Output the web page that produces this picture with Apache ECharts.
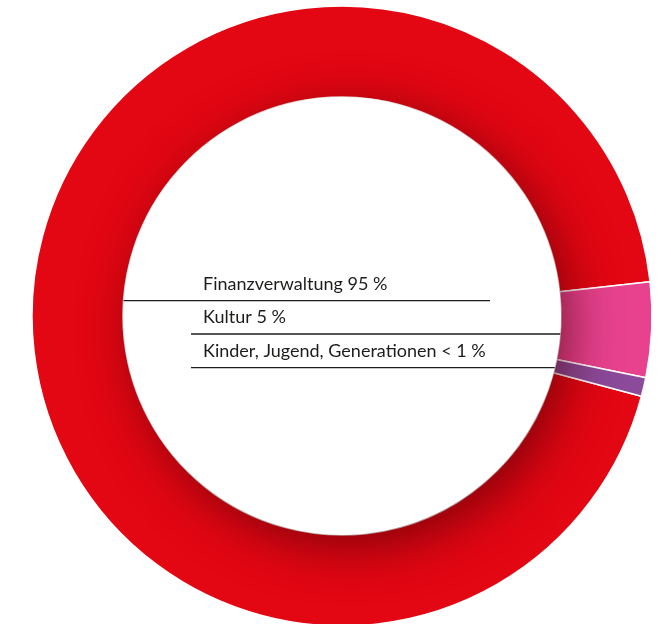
<!DOCTYPE html>
<html>
<head>
<meta charset="utf-8">
<script src="https://cdn.jsdelivr.net/npm/echarts@6/dist/echarts.min.js"></script>
<style>
  html, body { margin: 0; padding: 0; background: #ffffff; }
  #chart { width: 671px; height: 624px; }
</style>
</head>
<body>
<div id="chart"></div>
<script>
// Budget shares by department
const categories = ['Finanzverwaltung', 'Kultur', 'Kinder, Jugend, Generationen'];
const shares = [95, 5, 0.99];
const shareLabels = ['95 %', '5 %', '< 1 %'];
const sliceColors = ['#e30613', '#e8428f', '#8b4a9a'];

// Ring geometry (pixels)
const CX = 342, CY = 316, R_IN = 219, R_OUT = 310;
const START_ANGLE = 345;
const LABEL_X = 203;
const RULE_Y = [300.7, 334, 367.7];
const RULE_LEFT = 191;
const FIRST_RULE_END = 490;

// x where a horizontal rule at height y meets the inner edge of the ring
function innerEdgeX(y, side) {
  const dy = y - CY;
  return CX + side * Math.sqrt(R_IN * R_IN - dy * dy);
}

const sliceData = categories.map((name, i) => ({
  name: name,
  value: shares[i],
  itemStyle: { color: sliceColors[i] }
}));

const chart = echarts.init(document.getElementById('chart'), null, { renderer: 'canvas' });

chart.setOption({
  animation: false,
  backgroundColor: '#ffffff',
  series: [
    {
      // coloured ring
      type: 'pie',
      center: [CX, CY],
      radius: [R_IN, R_OUT],
      startAngle: START_ANGLE,
      clockwise: true,
      silent: true,
      z: 2,
      label: { show: false },
      labelLine: { show: false },
      itemStyle: { borderColor: '#ffffff', borderWidth: 1.5 },
      data: sliceData
    },
    {
      // white hole casting a soft shadow onto the ring
      type: 'pie',
      center: [CX, CY],
      radius: [0, R_IN],
      silent: true,
      z: 3,
      label: { show: false },
      labelLine: { show: false },
      itemStyle: {
        color: '#ffffff',
        shadowBlur: 50,
        shadowColor: 'rgba(70, 0, 5, 0.6)',
        shadowOffsetX: 10,
        shadowOffsetY: 12
      },
      data: [{ value: 1, name: '' }]
    },
    {
      // labels with underline rules, laid out as a small table
      type: 'pie',
      center: [CX, CY],
      radius: [R_IN, R_OUT],
      startAngle: START_ANGLE,
      clockwise: true,
      silent: true,
      z: 4,
      avoidLabelOverlap: false,
      itemStyle: { color: 'rgba(0,0,0,0)', borderWidth: 0 },
      label: {
        show: true,
        position: 'outside',
        formatter: (p) => categories[p.dataIndex] + ' ' + shareLabels[p.dataIndex],
        fontFamily: 'Lato',
        fontSize: 18,
        color: '#1d1d1b'
      },
      labelLine: {
        show: true,
        lineStyle: { color: '#1d1d1b', width: 1.3 }
      },
      labelLayout: (params) => {
        const i = params.dataIndex;
        const y = RULE_Y[i];
        const pts = i === 0
          ? [[innerEdgeX(y, -1), y], [FIRST_RULE_END, y], [FIRST_RULE_END, y]]
          : [[innerEdgeX(y, 1), y], [RULE_LEFT, y], [RULE_LEFT, y]];
        return {
          x: LABEL_X,
          y: y - 8,
          align: 'left',
          verticalAlign: 'bottom',
          labelLinePoints: pts
        };
      },
      data: sliceData.map(d => ({ name: d.name, value: d.value }))
    }
  ]
});
</script>
</body>
</html>
